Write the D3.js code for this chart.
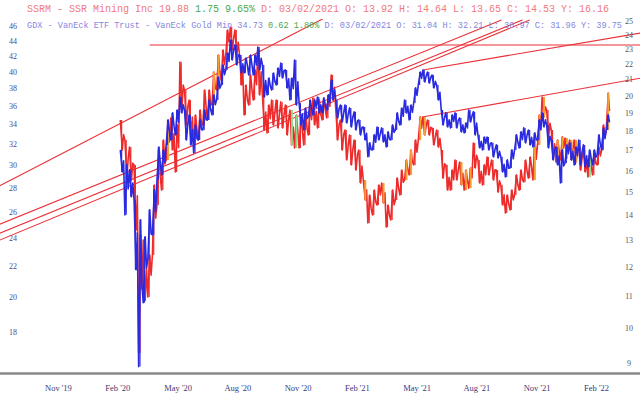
<!DOCTYPE html>
<html>
<head>
<meta charset="utf-8">
<script src="https://cdn.jsdelivr.net/npm/d3@7"></script>
<style>
  html, body { margin: 0; padding: 0; background: #ffffff; }
  svg { display: block; }
</style>
</head>
<body>
<svg id="chart" width="640" height="405"></svg>
<script>
// ---------------- DATA ----------------
// weekly bars (Mondays) from 24 Feb 2020 to 7 Mar 2022
const weekStart = new Date(2020, 1, 24);
const weekEnd = new Date(2022, 2, 8);

const ssrmHigh = [18.62,17.54,17.17,16.28,13.20,13.01,12.44,15.33,17.02,17.54,18.34,18.73,18.34,22.14,20.36,19.76,18.90,19.18,20.36,20.36,21.49,22.61,22.95,24.36,24.58,24.36,22.61,
  20.67,21.30,21.62,22.95,20.06,19.47,19.76,19.76,19.65,19.47,19.18,18.90,18.90,19.07,19.47,19.88,19.76,19.76,20.06,21.30,19.18,18.62,18.07,17.80,17.54,17.02,15.56,14.88,15.10,15.33,15.42,14.44,15.10,15.65,16.03,16.52,17.02,17.54,18.79,18.79,18.62,18.18,18.07,17.02,16.28,16.03,16.52,16.42,16.03,16.13,17.38,16.52,16.28,
  16.67,16.52,16.03,15.33,14.88,15.10,15.80,16.03,16.52,16.67,17.54,18.90,19.94,19.18,18.07,17.54,17.70,17.64,17.54,17.54,17.17,17.02,16.77,16.87,17.17,18.34,20.18];
const ssrmLow = [17.02,15.65,15.56,13.40,9.28,10.87,10.97,12.44,14.44,15.10,16.52,17.02,15.94,19.18,18.34,17.80,17.28,17.54,18.34,18.62,19.47,20.36,20.98,22.61,22.95,22.61,20.67,
  18.90,19.47,19.76,20.06,18.07,17.91,18.34,18.18,18.18,17.80,17.28,17.12,17.12,17.28,17.80,18.34,18.18,18.62,18.73,19.76,17.54,17.02,16.52,16.28,16.03,15.42,14.66,13.69,14.02,14.44,14.53,13.52,13.81,14.66,14.88,15.56,15.80,16.28,17.54,17.80,17.80,17.28,17.17,15.65,15.10,15.10,15.56,15.33,15.10,15.19,16.13,15.42,15.33,
  15.80,15.56,15.01,14.44,14.10,14.23,14.88,15.10,15.47,15.65,15.56,17.28,18.79,17.70,16.62,16.42,16.52,16.62,16.52,16.42,16.03,15.94,15.70,15.80,16.28,17.02,18.07];
const gdxHigh = [31.46,30.05,29.59,26.99,25.38,24.09,26.17,27.83,31.75,31.46,34.50,35.25,35.57,37.02,35.57,35.03,33.97,34.50,35.57,36.68,37.25,39.36,40.84,42.37,44.09,43.42,42.11,
  41.73,42.11,42.11,43.16,40.84,39.24,39.85,40.46,41.09,40.22,39.24,41.47,36.34,35.79,36.68,36.68,37.02,36.91,37.25,39.00,36.68,36.12,36.12,35.79,35.36,34.50,33.76,32.15,32.95,33.76,33.66,33.25,33.97,35.25,35.79,36.68,36.12,38.06,39.97,40.22,39.97,39.60,38.41,35.57,35.25,35.03,35.25,34.71,34.18,35.57,35.36,32.95,32.74,
  32.74,32.15,31.95,30.80,30.51,31.46,32.95,33.25,33.66,33.45,33.15,34.50,35.25,33.97,32.44,31.75,31.46,31.95,32.15,31.75,32.44,31.95,31.46,31.46,32.95,33.66,35.03];
const gdxLow = [29.41,25.77,27.24,21.77,16.17,19.68,22.45,24.24,28.70,29.14,31.95,32.44,32.95,35.25,32.44,31.95,31.17,32.44,33.45,34.50,35.03,36.68,38.41,40.22,41.47,40.84,39.85,
  39.85,39.60,39.60,40.22,37.02,37.25,37.82,38.41,39.24,38.06,36.68,36.12,33.97,33.45,34.82,35.03,35.25,35.25,35.57,36.68,34.71,34.29,34.18,33.76,33.45,32.95,32.44,30.80,31.46,32.44,32.25,31.75,32.44,33.45,33.97,35.25,34.50,36.34,38.41,38.76,38.64,38.06,36.68,33.97,33.76,33.66,33.66,33.25,33.15,34.29,32.95,31.66,31.46,
  31.46,30.80,30.70,29.41,28.96,29.77,31.46,31.66,32.15,31.95,31.75,32.44,33.76,31.66,30.51,30.05,28.43,30.23,30.51,30.05,30.05,29.86,29.86,30.05,30.98,31.46,33.45];

// weeks whose SSRM bars are highlighted (o = orange, g = green)
const ssrmFlags = [[10,"o"],[20,"o"],[21,"o"],[53,"o"],[57,"o"],[62,"o"],[63,"o"],[65,"o"],[66,"o"],
  [74,"o"],[75,"o"],[76,"o"],[90,"o"],[91,"o"],[92,"o"],[95,"o"],[96,"o"],[97,"o"],[98,"o"],[99,"o"],[106,"o"],
  [37,"g"],[38,"g"],[102,"g"]];

// trend lines drawn on the SSRM price scale: [date, price, date, price]
const trendLines = [
  ["2020-04-09", 23.29, "2022-05-08", 23.29],
  ["2019-08-17", 15.19, "2021-02-27", 26.76],
  ["2019-08-17", 13.56, "2021-09-28", 25.10],
  ["2019-08-17", 13.20, "2021-10-30", 25.10],
  ["2019-08-17", 12.93, "2021-11-10", 25.10],
  ["2021-05-31", 21.62, "2022-05-08", 24.22],
  ["2021-06-01", 18.80, "2022-05-08", 21.17]
];

const monthLabels = ["2019-11-01","2020-02-01","2020-05-01","2020-08-01","2020-11-01",
  "2021-02-01","2021-05-01","2021-08-01","2021-11-01","2022-02-01"];
const gdxTicks = [18,20,22,24,26,28,30,32,34,36,38,40,42,44,46];
const ssrmTicks = [9,10,11,12,13,14,15,16,17,18,19,20,21,22,23,24,25];

const header1 = [
  ["SSRM - SSR Mining Inc 19.88 ", "r"], ["1.75 9.65% ", "g"],
  ["D: 03/02/2021 O: 13.92 H: 14.64 L: 13.65 C: 14.53 Y: 16.16", "r"]
];
const header2 = [
  ["GDX - VanEck ETF Trust - VanEck Gold Min 34.73 ", "b"], ["0.62 1.80% ", "g"],
  ["D: 03/02/2021 O: 31.04 H: 32.21 L: 30.97 C: 31.96 Y: 39.75", "b"]
];

// ---------------- CHART ----------------
const svg = d3.select("#chart");
const W = 640, H = 405;

const weeks = d3.timeMonday.range(weekStart, weekEnd);
const parse = d3.timeParse("%Y-%m-%d");

const x = d3.scaleTime()
  .domain([new Date(2019, 10, 1), new Date(2022, 1, 1)])
  .range([45, 584]);
const yL = d3.scaleLog().domain([18, 44]).range([331.7, 40.7]);
const yR = d3.scaleLog().domain([10, 24]).range([328, 35]);

const plotTop = 19, plotBottom = 372;

svg.append("defs").append("clipPath").attr("id", "plotclip")
  .append("rect").attr("x", 0).attr("y", plotTop).attr("width", W).attr("height", plotBottom - plotTop);

const plot = svg.append("g").attr("clip-path", "url(#plotclip)");

// zig-zag path through each week's high and low, like a run of daily bars
function zigzag(hi, lo, yS) {
  const pts = [];
  weeks.forEach((d, i) => {
    const x0 = x(d), x1 = x(d3.timeDay.offset(d, 3)), x2 = x(d3.timeDay.offset(d, 5));
    const nextMid = i < weeks.length - 1 ? (hi[i + 1] + lo[i + 1]) / 2 : (hi[i] + lo[i]) / 2;
    const mid = (hi[i] + lo[i]) / 2;
    const up = nextMid >= mid;
    const a = up ? lo[i] : hi[i], b = up ? hi[i] : lo[i];
    pts.push([x0, yS(a)], [x1, yS(b)], [x2, yS((a + b) / 2)]);
  });
  return pts;
}

function drawSeries(hi, lo, yS, color) {
  const g = plot.append("g");
  g.append("path").attr("d", d3.line()(zigzag(hi, lo, yS)))
    .attr("fill", "none").attr("stroke", color).attr("stroke-width", 1.6)
    .attr("stroke-linejoin", "round");
  g.selectAll("line").data(weeks).join("line")
    .attr("x1", d => x(d3.timeDay.offset(d, 2))).attr("x2", d => x(d3.timeDay.offset(d, 2)))
    .attr("y1", (d, i) => yS(hi[i])).attr("y2", (d, i) => yS(lo[i]))
    .attr("stroke", color).attr("stroke-width", 1.2);
}

// trend lines behind
const tl = plot.append("g");
trendLines.forEach(t => {
  tl.append("line")
    .attr("x1", x(parse(t[0]))).attr("y1", yR(t[1]))
    .attr("x2", x(parse(t[2]))).attr("y2", yR(t[3]))
    .attr("stroke", "#ec2f36").attr("stroke-width", 1.1);
});

drawSeries(ssrmHigh, ssrmLow, yR, "#ee2b2b");
const flagColor = { o: "#f5a033", g: "#8fd88a" };
plot.append("g").selectAll("line").data(ssrmFlags).join("line")
  .attr("x1", f => x(d3.timeDay.offset(weeks[f[0]], 3))).attr("x2", f => x(d3.timeDay.offset(weeks[f[0]], 3)))
  .attr("y1", f => yR(ssrmHigh[f[0]])).attr("y2", f => yR(ssrmLow[f[0]]))
  .attr("stroke", f => flagColor[f[1]]).attr("stroke-width", 2);
drawSeries(gdxHigh, gdxLow, yL, "#2a2ae0");

// bottom axis line
svg.append("line").attr("x1", 0).attr("x2", W)
  .attr("y1", 373.5).attr("y2", 373.5)
  .attr("stroke", "#8a8a8a").attr("stroke-width", 2.5);

// x labels
const fmt = d3.timeFormat("%b '%y");
svg.append("g").selectAll("text").data(monthLabels.map(parse)).join("text")
  .attr("x", d => x(d)).attr("y", 391)
  .attr("font-family", "'Liberation Serif', 'DejaVu Serif', serif")
  .attr("font-size", 8.5).attr("fill", "#3a3a78")
  .text(d => fmt(d));

// left (GDX) labels
svg.append("g").selectAll("text").data(gdxTicks).join("text")
  .attr("x", 13).attr("y", v => yL(v)).attr("dy", "0.35em")
  .attr("text-anchor", "middle")
  .attr("font-family", "'Liberation Serif', 'DejaVu Serif', serif")
  .attr("font-size", 8).attr("fill", "#4a4a8a")
  .text(v => v);

// right (SSRM) labels
svg.append("g").selectAll("text").data(ssrmTicks).join("text")
  .attr("x", 629).attr("y", v => yR(v)).attr("dy", "0.35em")
  .attr("text-anchor", "middle")
  .attr("font-family", "'Liberation Serif', 'DejaVu Serif', serif")
  .attr("font-size", 8).attr("fill", "#555555")
  .text(v => v);

// header texts
const hColor = { r: "#f27a7a", g: "#4aa84a", b: "#8686e0" };
function header(parts, y, size) {
  const t = svg.append("text").attr("x", 27).attr("y", y)
    .attr("font-family", "'Liberation Mono', 'DejaVu Sans Mono', monospace")
    .attr("font-size", size).attr("xml:space", "preserve");
  parts.forEach(p => t.append("tspan").attr("fill", hColor[p[1]]).text(p[0]));
}
header(header1, 12, 10);
header(header2, 27.5, 8.55);
</script>
</body>
</html>
